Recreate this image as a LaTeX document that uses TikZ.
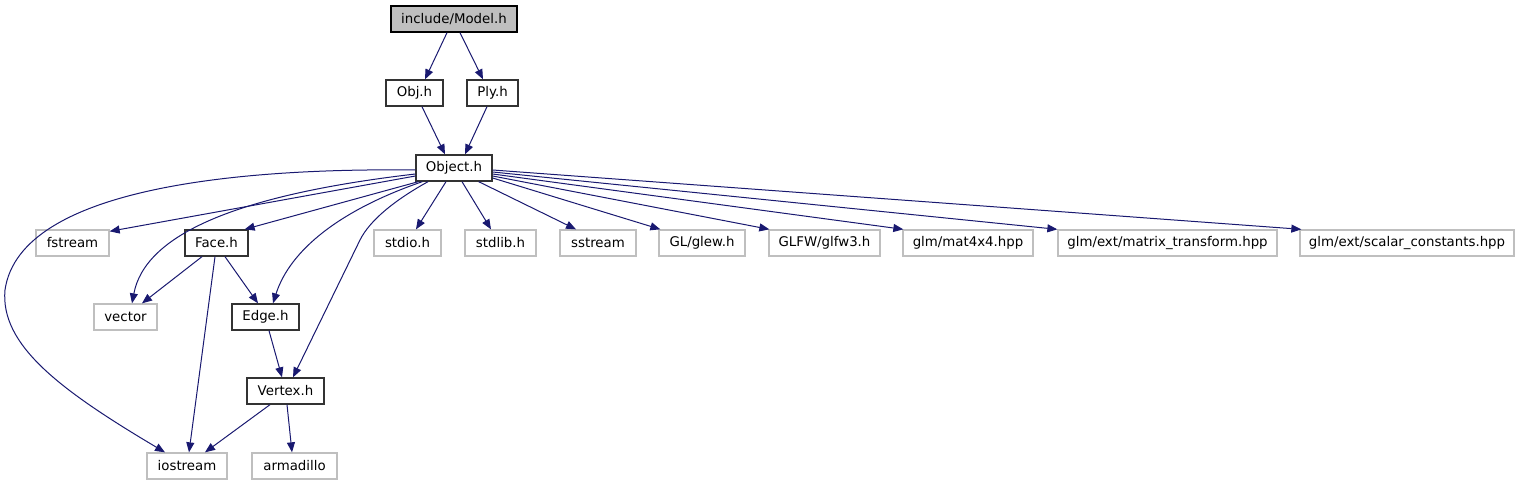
\documentclass[tikz,border=0pt]{standalone}
\usepackage{fontspec}
\setmainfont{DejaVu Sans}
\usetikzlibrary{arrows.meta,calc}
\definecolor{edgeblue}{HTML}{191970}
\definecolor{graybd}{HTML}{BFBFBF}
\definecolor{darkbd}{HTML}{333333}
\begin{document}
\begin{tikzpicture}[x=0.75pt,y=-0.75pt, font=\fontsize{10}{12}\selectfont,
  box/.style={draw=darkbd, line width=1pt, fill=white, minimum height=19.5pt, inner sep=0pt, text=black},
  ext/.style={box, draw=graybd},
  dep/.style={draw=edgeblue, line width=0.75pt, -{Triangle[length=7.5pt,width=6pt]}}]
\useasboundingbox (0,0) rectangle (1519,485);
% nodes
\node[box, draw=black, fill=graybd, minimum width=94.5pt] (model) at (454,19) {include/Model.h};
\node[box, minimum width=42.75pt] (obj) at (414.5,93) {Obj.h};
\node[box, minimum width=38.25pt] (ply) at (492.5,93) {Ply.h};
\node[box, minimum width=57pt] (object) at (454,168) {Object.h};
\node[ext, minimum width=54.75pt] (fstream) at (72.5,243) {fstream};
\node[box, minimum width=47.25pt] (face) at (216.5,243) {Face.h};
\node[ext, minimum width=50.25pt] (stdio) at (407.5,243) {stdio.h};
\node[ext, minimum width=53.25pt] (stdlib) at (500.5,243) {stdlib.h};
\node[ext, minimum width=57pt] (sstream) at (598,243) {sstream};
\node[ext, minimum width=64.5pt] (glew) at (702,243) {GL/glew.h};
\node[ext, minimum width=83.25pt] (glfw) at (824.5,243) {GLFW/glfw3.h};
\node[ext, minimum width=97.5pt] (mat) at (968,243) {glm/mat4x4.hpp};
\node[ext, minimum width=164.25pt] (mt) at (1167.5,243) {glm/ext/matrix\_transform.hpp};
\node[ext, minimum width=160.5pt] (sc) at (1407,243) {glm/ext/scalar\_constants.hpp};
\node[ext, minimum width=47.25pt] (vector) at (125.5,317) {vector};
\node[box, minimum width=50.25pt] (edge) at (265.5,317) {Edge.h};
\node[box, minimum width=57.75pt] (vertex) at (285.5,391) {Vertex.h};
\node[ext, minimum width=60pt] (iostream) at (187,466) {iostream};
\node[ext, minimum width=63.75pt] (armadillo) at (294.5,466) {armadillo};
% edges
\draw[dep] ($(model.south)+(-7,0)$) -- ($(obj.north)+(10.5,0)$);
\draw[dep] ($(model.south)+(6,0)$) -- ($(ply.north)+(-9.5,0)$);
\draw[dep] ($(obj.south)+(7.5,0)$) -- ($(object.north)+(-9,0)$);
\draw[dep] ($(ply.south)+(-5.5,0)$) -- ($(object.north)+(11,0)$);
\draw[dep] ($(object.west)+(0,8)$) -- ($(fstream.north east)+(0,2)$);
\draw[dep] ($(object.west)+(0,6)$) .. controls (235,195) and (145,235) .. ($(vector.north)+(6.5,0)$);
\draw[dep] ($(object.west)+(0,2)$) .. controls (250,168) and (20,185) .. (5,290)
   .. controls (0,345) and (60,390) .. ($(iostream.north)+(-22,0)$);
\draw[dep] ($(object.south west)+(3,0)$) -- ($(face.north east)+(-4,0)$);
\draw[dep] ($(object.south west)+(7,0)$) .. controls (340,210) and (290,250) .. ($(edge.north)+(7.5,0)$);
\draw[dep] ($(object.south)+(-26,0)$) .. controls (395,200) and (370,220) .. (360,240) -- ($(vertex.north)+(7.5,0)$);
\draw[dep] ($(object.south)+(-8,0)$) -- ($(stdio.north)+(8.5,0)$);
\draw[dep] ($(object.south)+(8,0)$) -- ($(stdlib.north)+(-9.5,0)$);
\draw[dep] ($(object.south east)+(-14,0)$) -- ($(sstream.north)+(-22,0)$);
\draw[dep] ($(object.east)+(0,10)$) -- ($(glew.north west)+(2,0)$);
\draw[dep] ($(object.east)+(0,8)$) -- ($(glfw.north west)+(1,0)$);
\draw[dep] ($(object.east)+(0,6)$) -- ($(mat.north west)+(1,0)$);
\draw[dep] ($(object.east)+(0,4)$) -- ($(mt.north west)+(0,0)$);
\draw[dep] ($(object.east)+(0,2)$) -- ($(sc.north west)+(2,0)$);
\draw[dep] ($(face.south)+(-14.5,0)$) -- ($(vector.north)+(16.5,0)$);
\draw[dep] ($(face.south)+(-1.5,0)$) -- ($(iostream.north)+(2,0)$);
\draw[dep] ($(face.south)+(8.5,0)$) -- ($(edge.north)+(-7.5,0)$);
\draw[dep] ($(edge.south)+(3.5,0)$) -- ($(vertex.north)+(-3.5,0)$);
\draw[dep] ($(vertex.south)+(-15.5,0)$) -- ($(iostream.north)+(18,0)$);
\draw[dep] ($(vertex.south)+(1.5,0)$) -- ($(armadillo.north)+(-2.5,0)$);
\end{tikzpicture}
\end{document}
